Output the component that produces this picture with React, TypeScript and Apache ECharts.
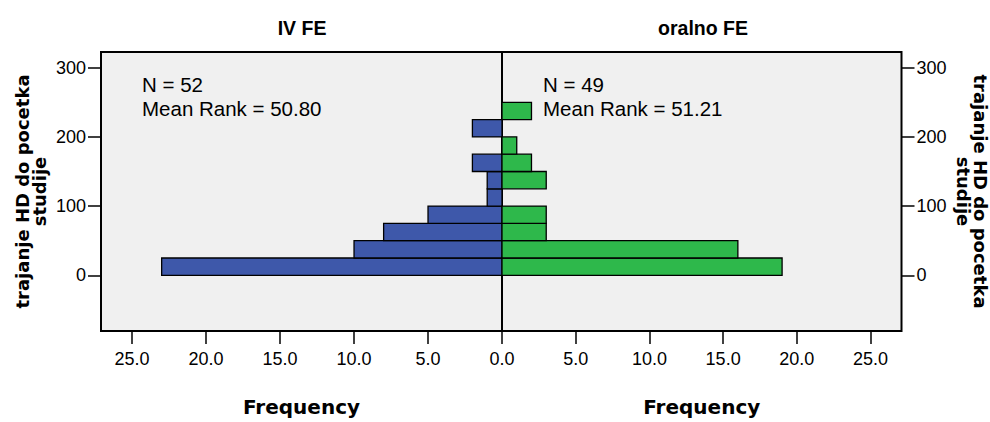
import React, { useEffect, useRef } from "react";
import * as echarts from "echarts";

// Histogram bins (days) and frequencies
const binStarts = [0, 25, 50, 75, 100, 125, 150, 175, 200, 225];
const binWidth = 25;
const ivCounts = [23, 10, 8, 5, 1, 1, 2, 0, 2, 0];
const oralCounts = [19, 16, 3, 3, 0, 3, 2, 1, 0, 2];
const groupTitles = ["IV FE", "oralno FE"];
const groupN = [52, 49];
const meanRanks = ["50.80", "51.21"];
const freqTicksLeft = [0, 5, 10, 15, 20, 25];
const freqTicksRight = [5, 10, 15, 20, 25];
const yTicks = [0, 100, 200, 300];
const yName = "trajanje HD do pocetka\nstudije";
const xName = "Frequency";

const BLUE = "#3e58aa";
const GREEN = "#2eb84b";

export default function App() {
  const ref = useRef<HTMLDivElement>(null);
  useEffect(() => {
    if (!ref.current) return;
    const chart = echarts.init(ref.current, undefined, { renderer: "svg" });
    const tickFont = { fontFamily: "Liberation Sans", fontSize: 18, color: "#000" };
    const nameFont = { fontFamily: "DejaVu Sans", fontWeight: "bold" as const, fontSize: 18, lineHeight: 17, color: "#000" };
    const xNameFont = { fontFamily: "DejaVu Sans", fontWeight: "bold" as const, fontSize: 20, color: "#000" };

    const mk = (counts: number[], color: string, idx: number) => ({
      type: "custom",
      xAxisIndex: idx,
      yAxisIndex: idx,
      data: binStarts
        .map((b, i) => [b, b + binWidth, counts[i]])
        .filter((d) => d[2] > 0),
      encode: { x: 2, y: [0, 1] },
      renderItem: (_params: any, api: any) => {
        const lo = api.value(0);
        const hi = api.value(1);
        const c = api.value(2);
        const p0 = api.coord([0, lo]);
        const p1 = api.coord([c, hi]);
        return {
          type: "rect",
          shape: {
            x: Math.min(p0[0], p1[0]),
            y: Math.min(p0[1], p1[1]),
            width: Math.abs(p1[0] - p0[0]),
            height: Math.abs(p1[1] - p0[1]),
          },
          style: { fill: color, stroke: "#000", lineWidth: 1.3 },
        };
      },
    });

    const xAxisBase = (idx: number, ticks: number[], inverse: boolean) => ({
      type: "value",
      gridIndex: idx,
      min: 0,
      max: 27.1,
      inverse,
      position: "bottom",
      name: xName,
      nameLocation: "middle",
      nameGap: 66,
      nameTextStyle: xNameFont,
      axisLine: { show: false, onZero: false },
      axisTick: { show: true, length: 13, customValues: ticks, lineStyle: { color: "#000", width: 1.5 } },
      axisLabel: { ...tickFont, margin: 19, customValues: ticks, formatter: (v: number) => v.toFixed(1) },
      splitLine: { show: false },
    });

    const yAxisBase = (idx: number, pos: "left" | "right") => ({
      type: "value",
      gridIndex: idx,
      min: -80.5,
      max: 322.7,
      position: pos,
      name: yName,
      nameLocation: "middle",
      nameRotate: pos === "left" ? 90 : -90,
      nameGap: 53,
      nameTextStyle: nameFont,
      axisLine: { show: false, onZero: false },
      axisTick: { show: true, length: 13, customValues: yTicks, lineStyle: { color: "#000", width: 1.5 } },
      axisLabel: { ...tickFont, margin: 15, customValues: yTicks },
      splitLine: { show: false },
    });

    const annot = (x: number, i: number) => [
      {
        type: "text",
        x,
        y: 84,
        style: { text: `N = ${groupN[i]}`, fontFamily: "Liberation Sans", fontSize: 20.5, fill: "#000", verticalAlign: "middle", align: "left" },
        z: 100,
      },
      {
        type: "text",
        x,
        y: 108,
        style: { text: `Mean Rank = ${meanRanks[i]}`, fontFamily: "Liberation Sans", fontSize: 20.5, fill: "#000", verticalAlign: "middle", align: "left" },
        z: 100,
      },
    ];

    chart.setOption({
      animation: false,
      backgroundColor: "#fff",
      grid: [
        { left: 101, width: 401, top: 52, height: 279, show: true, backgroundColor: "#f0f0f0", borderColor: "#000", borderWidth: 2, containLabel: false },
        { left: 502, width: 401, top: 52, height: 279, show: true, backgroundColor: "#f0f0f0", borderColor: "#000", borderWidth: 2, containLabel: false },
      ],
      xAxis: [xAxisBase(0, freqTicksLeft, true), xAxisBase(1, freqTicksRight, false)],
      yAxis: [yAxisBase(0, "left"), yAxisBase(1, "right")],
      series: [mk(ivCounts, BLUE, 0), mk(oralCounts, GREEN, 1)],
      graphic: [
        {
          type: "text",
          x: 302,
          y: 28,
          style: { text: groupTitles[0], fontFamily: "Liberation Sans", fontWeight: "bold", fontSize: 19.5, fill: "#000", align: "center", verticalAlign: "middle" },
        },
        {
          type: "text",
          x: 703,
          y: 28,
          style: { text: groupTitles[1], fontFamily: "Liberation Sans", fontWeight: "bold", fontSize: 19.5, fill: "#000", align: "center", verticalAlign: "middle" },
        },
        ...annot(142, 0),
        ...annot(543, 1),
      ],
    });
    return () => chart.dispose();
  }, []);
  return <div ref={ref} style={{ position: "fixed", left: 0, top: 0, width: 990, height: 422 }} />;
}
